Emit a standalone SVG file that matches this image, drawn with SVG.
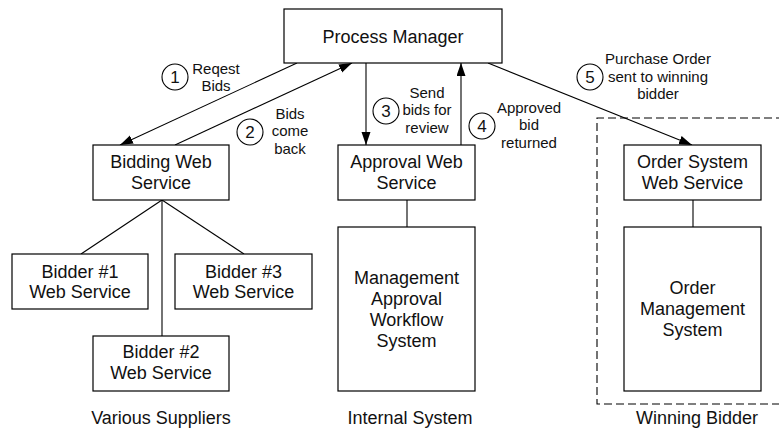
<svg xmlns="http://www.w3.org/2000/svg" width="779" height="429" viewBox="0 0 779 429">
<style>
.box{fill:#fff;stroke:#000;stroke-width:1.2}
.ln{fill:none;stroke:#000;stroke-width:1.1}
.arr{fill:none;stroke:#000;stroke-width:1.1;marker-end:url(#ah)}
.t{font-family:"Liberation Sans",Arial,sans-serif;font-size:18px;fill:#111;text-anchor:middle}
.s{font-family:"Liberation Sans",Arial,sans-serif;font-size:15px;fill:#111;text-anchor:middle}
.c{fill:#fff;stroke:#000;stroke-width:1.1}
.n{font-family:"Liberation Sans",Arial,sans-serif;font-size:17px;fill:#111;text-anchor:middle}
</style>
<defs>
<marker id="ah" markerUnits="userSpaceOnUse" markerWidth="13" markerHeight="10" refX="13" refY="4.5" orient="auto">
<path d="M0,0 L13,4.5 L0,9 z" fill="#000"/>
</marker>
</defs>
<rect width="779" height="429" fill="#fff"/>
<path d="M820,118 H597 V404 H820" fill="none" stroke="#000" stroke-width="1.1" stroke-dasharray="8,4"/>
<g id="connectors">
<line class="arr" x1="297" y1="63" x2="120" y2="145"/>
<line class="arr" x1="175" y1="145" x2="352" y2="63"/>
<line class="arr" x1="366" y1="63" x2="366" y2="145"/>
<line class="arr" x1="461" y1="145" x2="461" y2="63"/>
<line class="arr" x1="488" y1="63" x2="692" y2="145"/>
<line class="ln" x1="162" y1="200" x2="81" y2="254"/>
<line class="ln" x1="162" y1="200" x2="244" y2="254"/>
<line class="ln" x1="162" y1="200" x2="162" y2="336"/>
<line class="ln" x1="407" y1="200" x2="407" y2="227"/>
<line class="ln" x1="693" y1="200" x2="693" y2="227"/>
</g>
<g id="process-manager">
<rect class="box" x="284" y="9" width="218" height="54"/>
<text class="t" x="393" y="42.5">Process Manager</text>
</g>
<g id="bidding-ws">
<rect class="box" x="93" y="145" width="136" height="55"/>
<text class="t" x="161" y="168">Bidding Web</text>
<text class="t" x="161" y="188.5">Service</text>
</g>
<g id="approval-ws">
<rect class="box" x="338" y="145" width="137" height="55"/>
<text class="t" x="406.5" y="168">Approval Web</text>
<text class="t" x="406.5" y="188.5">Service</text>
</g>
<g id="order-ws">
<rect class="box" x="624" y="145" width="137" height="55"/>
<text class="t" x="692.5" y="168">Order System</text>
<text class="t" x="692.5" y="188.5">Web Service</text>
</g>
<g id="bidder1">
<rect class="box" x="12" y="254" width="136" height="55"/>
<text class="t" x="80" y="277.5">Bidder #1</text>
<text class="t" x="80" y="298">Web Service</text>
</g>
<g id="bidder3">
<rect class="box" x="175" y="254" width="137" height="55"/>
<text class="t" x="243.5" y="277.5">Bidder #3</text>
<text class="t" x="243.5" y="298">Web Service</text>
</g>
<g id="bidder2">
<rect class="box" x="93" y="336" width="136" height="55"/>
<text class="t" x="161" y="358">Bidder #2</text>
<text class="t" x="161" y="379">Web Service</text>
</g>
<g id="mgmt-approval">
<rect class="box" x="338" y="227" width="137" height="164"/>
<text class="t" x="406.5" y="284">Management</text>
<text class="t" x="406.5" y="305">Approval</text>
<text class="t" x="406.5" y="326">Workflow</text>
<text class="t" x="406.5" y="347">System</text>
</g>
<g id="order-mgmt">
<rect class="box" x="624" y="227" width="137" height="164"/>
<text class="t" x="692.5" y="294">Order</text>
<text class="t" x="692.5" y="315">Management</text>
<text class="t" x="692.5" y="336">System</text>
</g>
<g id="step1">
<circle class="c" cx="175" cy="77" r="13"/>
<text class="n" x="175" y="83">1</text>
<text class="s" x="216" y="73.5">Reqest</text>
<text class="s" x="216" y="91">Bids</text>
</g>
<g id="step2">
<circle class="c" cx="250" cy="132" r="13"/>
<text class="n" x="250" y="138">2</text>
<text class="s" x="290" y="118.5">Bids</text>
<text class="s" x="290" y="136">come</text>
<text class="s" x="290" y="153.5">back</text>
</g>
<g id="step3">
<circle class="c" cx="386" cy="111" r="13"/>
<text class="n" x="386" y="117">3</text>
<text class="s" x="427" y="97.5">Send</text>
<text class="s" x="427" y="115">bids for</text>
<text class="s" x="427" y="132.5">review</text>
</g>
<g id="step4">
<circle class="c" cx="482" cy="126" r="13"/>
<text class="n" x="482" y="132">4</text>
<text class="s" x="529" y="112.5">Approved</text>
<text class="s" x="529" y="130">bid</text>
<text class="s" x="529" y="147.5">returned</text>
</g>
<g id="step5">
<circle class="c" cx="590" cy="77" r="13"/>
<text class="n" x="590" y="83">5</text>
<text class="s" x="658" y="64">Purchase Order</text>
<text class="s" x="658" y="81.5">sent to winning</text>
<text class="s" x="658" y="99">bidder</text>
</g>
<g id="group-labels">
<text class="t" x="161" y="424">Various Suppliers</text>
<text class="t" x="410" y="424">Internal System</text>
<text class="t" x="697" y="424">Winning Bidder</text>
</g>
</svg>
